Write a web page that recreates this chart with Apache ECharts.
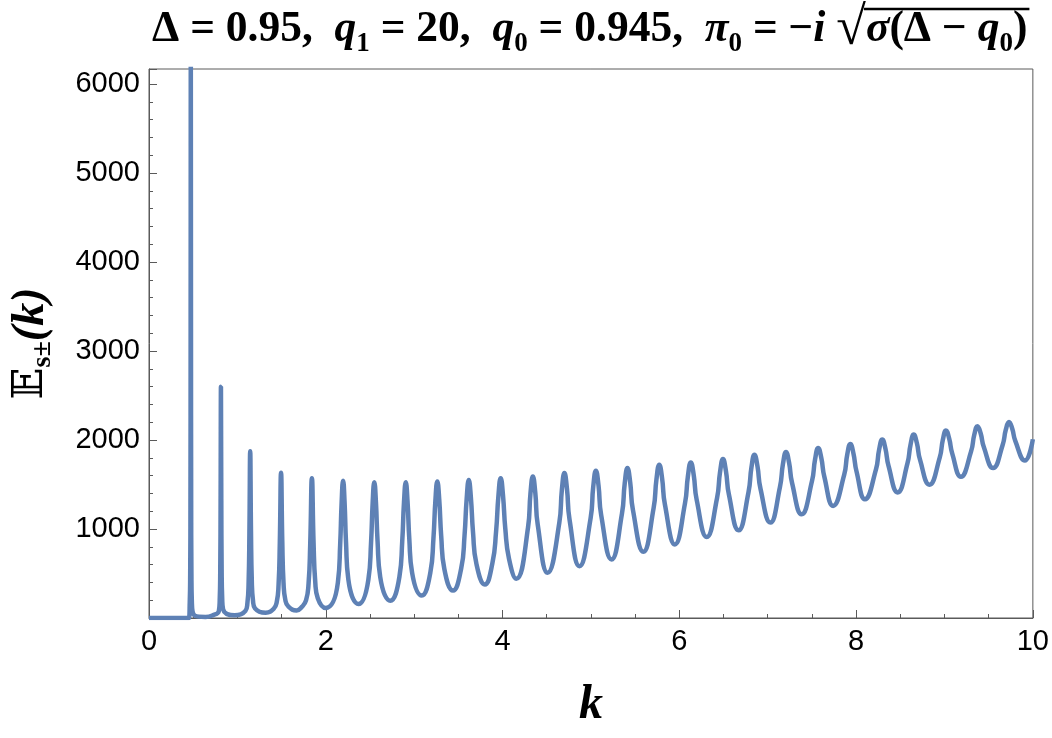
<!DOCTYPE html>
<html>
<head>
<meta charset="utf-8">
<script src="https://cdn.jsdelivr.net/npm/echarts@6/dist/echarts.min.js"></script>
<style>
  html, body { margin: 0; padding: 0; background: #fff; }
  #chart { width: 1052px; height: 738px; }
</style>
</head>
<body>
<div id="chart"></div>
<script>
// k values (peaks, flanks and troughs)
const kValues = [
  0, 0.40, 0.45, 0.461, 0.466, 0.469, 0.471, 0.473, 0.475, 0.477, 0.480, 0.485, 0.52, 0.64, 0.72,
  0.790, 0.800, 0.806, 0.810, 0.814, 0.818, 0.822, 0.828, 0.838, 0.97,
  1.091, 1.1135, 1.127, 1.136, 1.145, 1.154, 1.163, 1.1765, 1.199, 1.32,
  1.410, 1.445, 1.466, 1.480, 1.494, 1.508, 1.522, 1.543, 1.578, 1.67,
  1.729, 1.7765, 1.805, 1.824, 1.843, 1.862, 1.881, 1.9095, 2.0,
  2.137, 2.163, 2.1795, 2.196, 2.2125, 2.229, 2.255, 2.37,
  2.482, 2.512, 2.5305, 2.549, 2.5675, 2.586, 2.616, 2.73,
  2.833, 2.865, 2.885, 2.905, 2.925, 2.945, 2.977, 3.086,
  3.183, 3.218, 3.240, 3.262, 3.284, 3.306, 3.341, 3.44,
  3.532, 3.570, 3.594, 3.618, 3.642, 3.666, 3.704, 3.80,
  3.885, 3.927, 3.953, 3.979, 4.005, 4.031, 4.073, 4.155,
  4.288, 4.3155, 4.343, 4.3705, 4.398, 4.51,
  4.642, 4.671, 4.70, 4.729, 4.758, 4.87,
  4.996, 5.026, 5.056, 5.086, 5.116, 5.233,
  5.351, 5.382, 5.413, 5.444, 5.475, 5.593,
  5.709, 5.741, 5.773, 5.805, 5.837, 5.95,
  6.064, 6.097, 6.13, 6.163, 6.196, 6.31,
  6.427, 6.4605, 6.494, 6.5275, 6.561, 6.67,
  6.782, 6.816, 6.85, 6.884, 6.918, 7.03,
  7.138, 7.1725, 7.207, 7.2415, 7.276, 7.384,
  7.501, 7.536, 7.571, 7.606, 7.641, 7.74,
  7.865, 7.900, 7.935, 7.970, 8.005, 8.10,
  8.225, 8.2605, 8.296, 8.3315, 8.367, 8.47,
  8.581, 8.6165, 8.652, 8.6875, 8.723, 8.83,
  8.946, 8.9815, 9.017, 9.0525, 9.088, 9.186,
  9.301, 9.337, 9.373, 9.409, 9.445, 9.55,
  9.658, 9.694, 9.73, 9.766, 9.802, 9.91,
  10.0
];

const eValues = [
  0, 0, 0, 180, 490, 1300, 3250, 6500, 3254, 1306, 495, 180, 25, 12, 30,
  78, 202, 526, 1304, 2600, 1315, 544, 223, 99, 30,
  80, 168, 399, 952, 1874, 967, 423, 196, 109, 60,
  102, 178, 375, 847, 1633, 859, 395, 201, 127, 85,
  125, 197, 382, 829, 1572, 843, 405, 222, 113,
  399, 828, 1300, 1543, 1308, 851, 435, 158,
  432, 842, 1294, 1527, 1301, 861, 461, 195,
  461, 861, 1301, 1527, 1310, 889, 507, 252,
  509, 893, 1317, 1535, 1326, 921, 553, 308,
  556, 929, 1339, 1550, 1350, 963, 611, 376,
  615, 974, 1369, 1572, 1380, 1006, 666, 440,
  1016, 1395, 1591, 1407, 1050, 508,
  1069, 1438, 1629, 1451, 1106, 583,
  1120, 1474, 1656, 1486, 1157, 658,
  1172, 1510, 1685, 1525, 1215, 745,
  1234, 1557, 1723, 1571, 1275, 827,
  1288, 1592, 1749, 1606, 1330, 910,
  1349, 1638, 1787, 1651, 1387, 986,
  1411, 1692, 1836, 1706, 1454, 1072,
  1469, 1731, 1866, 1747, 1516, 1166,
  1539, 1784, 1911, 1800, 1586, 1260,
  1608, 1838, 1956, 1850, 1646, 1335,
  1671, 1892, 2006, 1905, 1709, 1411,
  1737, 1951, 2062, 1966, 1780, 1498,
  1803, 2003, 2107, 2019, 1848, 1588,
  1872, 2059, 2156, 2076, 1921, 1685,
  1945, 2116, 2204, 2130, 1987, 1769,
  2009
];

const xTicks = [0, 2, 4, 6, 8, 10];
const yTicks = [1000, 2000, 3000, 4000, 5000, 6000];
const yMax = 6170;

const chart = echarts.init(document.getElementById('chart'), null, { renderer: 'canvas' });

const serif = '"Liberation Serif", "Times New Roman", serif';
const sans = '"Liberation Sans", Arial, sans-serif';
const frameColor = '#5a5a5a';

// title pieces: [style, text]
const titleStyles = {
  n: { fontFamily: serif, fontWeight: 'bold', fontStyle: 'normal', fontSize: 43.5, lineHeight: 56 },
  i: { fontFamily: serif, fontWeight: 'bold', fontStyle: 'italic', fontSize: 43.5, lineHeight: 56 },
  s: { fontFamily: serif, fontWeight: 'bold', fontStyle: 'normal', fontSize: 27, lineHeight: 36, verticalAlign: 'bottom' },
  r: { fontFamily: serif, fontWeight: 'normal', fontStyle: 'normal', fontSize: 54, lineHeight: 56 }
};
const titleParts = [
  ['n', 'Δ = 0.95,  '], ['i', 'q'], ['s', '1'], ['n', ' = 20,  '],
  ['i', 'q'], ['s', '0'], ['n', ' = 0.945,  '],
  ['i', 'π'], ['s', '0'], ['n', ' = −'], ['i', 'i '], ['r', '√'],
  ['i', 'σ'], ['n', '(Δ − '], ['i', 'q'], ['s', '0'], ['n', ')']
];
const titleLeft = 152;
const titleTop = 3;

// measure where the radical ends, so the overline covers the radicand
const ctx = document.createElement('canvas').getContext('2d');
let radEnd = 0;
let titleWidth = 0;
titleParts.forEach(([st, txt]) => {
  const s = titleStyles[st];
  ctx.font = s.fontStyle + ' ' + s.fontWeight + ' ' + s.fontSize + 'px ' + s.fontFamily;
  titleWidth += ctx.measureText(txt).width;
  if (st === 'r') radEnd = titleWidth;
});

const titleRich = {};
Object.keys(titleStyles).forEach(k => {
  titleRich[k] = Object.assign({ fill: '#000' }, titleStyles[k]);
});

const option = {
  animation: false,
  backgroundColor: '#fff',
  graphic: [
    {
      type: 'text',
      left: titleLeft,
      top: titleTop,
      style: {
        text: titleParts.map(([st, txt]) => '{' + st + '|' + txt + '}').join(''),
        rich: titleRich
      }
    },
    {
      // overline of the square root
      type: 'line',
      shape: {
        x1: titleLeft + radEnd - 2, y1: 9,
        x2: titleLeft + titleWidth + 2, y2: 9
      },
      style: { stroke: '#000', lineWidth: 2.5 }
    }
  ],
  grid: {
    left: 146,
    right: 17,
    top: 69,
    bottom: 120,
    show: true,
    borderColor: frameColor,
    borderWidth: 1
  },
  xAxis: {
    type: 'value',
    min: xTicks[0],
    max: xTicks[xTicks.length - 1],
    interval: 2,
    name: 'k',
    nameLocation: 'middle',
    nameGap: 64,
    nameTextStyle: {
      fontFamily: serif, fontWeight: 'bold', fontStyle: 'italic', fontSize: 48, color: '#000'
    },
    axisLine: { show: true, lineStyle: { color: frameColor, width: 1 } },
    axisTick: { show: true, inside: true, length: 8, lineStyle: { color: frameColor } },
    minorTick: { show: true, splitNumber: 4, length: 4, lineStyle: { color: frameColor } },
    splitLine: { show: false },
    axisLabel: {
      margin: 9,
      fontFamily: sans,
      fontSize: 29,
      color: '#000',
      formatter: v => (xTicks.indexOf(v) >= 0 ? String(v) : '')
    }
  },
  yAxis: {
    type: 'value',
    min: 0,
    max: yMax,
    interval: 1000,
    name: '{e|𝔼}{s|s±}{k|(k)}',
    nameLocation: 'middle',
    nameRotate: 90,
    nameGap: 92,
    nameTextStyle: {
      rich: {
        e: { fontFamily: '"DejaVu Serif", "DejaVu Sans", serif', fontSize: 42, color: '#000', lineHeight: 52 },
        s: { fontFamily: serif, fontWeight: 'bold', fontSize: 28, color: '#000', lineHeight: 34, verticalAlign: 'bottom' },
        k: { fontFamily: serif, fontWeight: 'bold', fontStyle: 'italic', fontSize: 46, color: '#000', lineHeight: 52 }
      }
    },
    axisLine: { show: true, lineStyle: { color: frameColor, width: 1 } },
    axisTick: { show: true, inside: true, length: 8, lineStyle: { color: frameColor } },
    minorTick: { show: true, splitNumber: 5, length: 4, lineStyle: { color: frameColor } },
    splitLine: { show: false },
    axisLabel: {
      margin: 9,
      fontFamily: sans,
      fontSize: 29,
      color: '#000',
      showMaxLabel: false,
      formatter: v => (yTicks.indexOf(v) >= 0 ? String(v) : '')
    }
  },
  series: [
    {
      type: 'line',
      data: kValues.map((k, i) => [k, eValues[i]]),
      showSymbol: false,
      smooth: 0.5,
      clip: true,
      lineStyle: { color: '#5e81b5', width: 4.5 }
    }
  ]
};

chart.setOption(option);
</script>
</body>
</html>
